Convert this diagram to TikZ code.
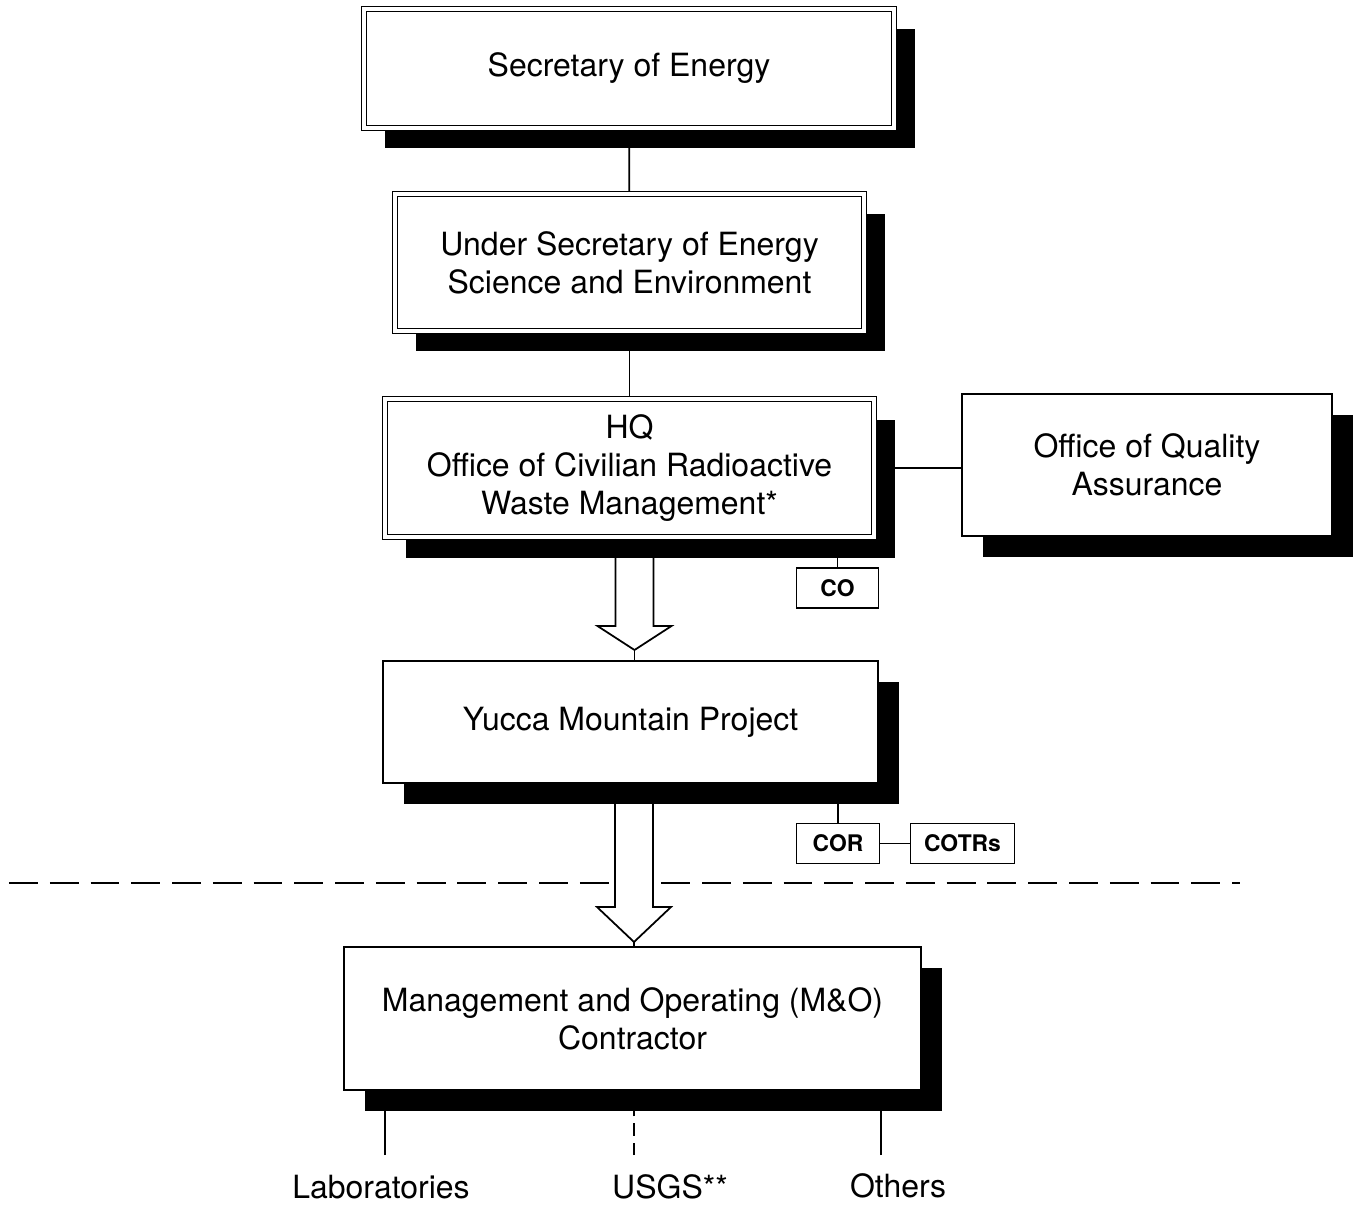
\documentclass[tikz,border=0pt]{standalone}
\usepackage{fontspec}
\setmainfont{TeX Gyre Heros}
\usetikzlibrary{calc}
\usetikzlibrary{positioning}
\usetikzlibrary{shadows}
\usetikzlibrary{backgrounds}

\begin{document}
\begin{tikzpicture}
    \fontsize{18.2}{21.6}\selectfont

    \tikzstyle{blk} = [rectangle, draw=black, line width=1pt, fill=white, align=center, general shadow={shadow xshift=0.42cm, shadow yshift=-0.41cm, fill=black}]
    \tikzstyle{dblk} = [blk, double, double distance=2pt, line width=0.8pt]
    \tikzstyle{tag} = [rectangle, draw=black, line width=1pt, fill=white, minimum height=0.8cm, font=\fontsize{13}{15}\selectfont\bfseries]
    \tikzstyle{lab} = [rectangle, inner sep=0pt]
    \tikzstyle{line} = [line width=1pt]
    \tikzstyle{sep} = [line width=1.2pt, dash pattern=on 16.4pt off 6.8pt]
    \tikzstyle{barrow} = [line width=1pt, fill=white, line join=miter]

    \useasboundingbox (0,0) rectangle (27.16,-24.14);

    % Boxes %%%%%%%%%%%%%%%%%%%%%%%%%%%%%%%%%%%%%%%%%%%%%%%%%%%%%%%%%%%%%%%%%%%%%%%%%%%%%%%
    \node[dblk, minimum width=10.6cm, minimum height=2.38cm] (sec) at (12.58,-1.37) {Secretary of Energy};
    \node[dblk, minimum width=9.38cm, minimum height=2.74cm] (under) at (12.59,-5.25) {Under Secretary of Energy\\Science and Environment};
    \node[dblk, minimum width=9.78cm, minimum height=2.76cm] (hq) at (12.59,-9.36) {HQ\\Office of Civilian Radioactive\\Waste Management*};
    \node[blk, minimum width=7.4cm, minimum height=2.84cm] (oqa) at (22.94,-9.30) {Office of Quality\\Assurance};
    \node[tag, minimum width=1.64cm] (co) at (16.75,-11.76) {CO};
    \node[blk, minimum width=9.9cm, minimum height=2.44cm] (ymp) at (12.61,-14.44) {Yucca Mountain Project};
    \node[tag, minimum width=1.66cm] (cor) at (16.76,-16.87) {COR};
    \node[tag, minimum width=2.08cm] (cotrs) at (19.25,-16.87) {COTRs};
    \node[blk, minimum width=11.54cm, minimum height=2.86cm] (mo) at (12.65,-20.37) {Management and Operating (M\&O)\\Contractor};

    \node[lab] (labs) at (7.62,-23.74) {Laboratories};
    \node[lab] (usgs) at (13.4,-23.74) {USGS**};
    \node[lab] (others) at (17.96,-23.72) {Others};

    \coordinate (labsEnd) at (7.7,-23.1);
    \coordinate (usgsEnd) at (12.68,-23.1);
    \coordinate (othersEnd) at (17.62,-23.1);
    \coordinate (dashL) at (0.18,-17.66);
    \coordinate (dashR) at (24.8,-17.66);
    \coordinate (aTop) at (12.69,-10.9);
    \coordinate (aTip) at (12.69,-13.0);
    \coordinate (bTop) at (12.68,-15.86);
    \coordinate (bTip) at (12.68,-18.84);

    % Now link the nodes (behind the shadows) %%%%%%%%%%%%%%%%%%%%%%%%%%%%%%%%%%%%%%%%%%%%
    \begin{pgfonlayer}{background}
      \draw [line] (sec) -- (under);
      \draw [line] (under) -- (hq);
      \draw [line] (hq) -- (hq -| oqa.west);
      \draw [line] (co.north) -- (co.north |- hq.south);
      \draw [line] (cor.north) -- (cor.north |- ymp.south);
      \draw [line] (cor) -- (cotrs);

      \draw [sep] (dashL) -- (dashR);

      \draw [barrow] ($(aTop)+(-0.38,0)$) -- ($(aTip)+(-0.38,0.48)$) -- ($(aTip)+(-0.74,0.48)$) -- (aTip)
                     -- ($(aTip)+(0.74,0.48)$) -- ($(aTip)+(0.38,0.48)$) -- ($(aTop)+(0.38,0)$);
      \draw [line] (aTip) -- (aTip |- ymp.north);
      \draw [barrow] ($(bTop)+(-0.38,0)$) -- ($(bTip)+(-0.38,0.7)$) -- ($(bTip)+(-0.74,0.7)$) -- (bTip)
                     -- ($(bTip)+(0.74,0.7)$) -- ($(bTip)+(0.38,0.7)$) -- ($(bTop)+(0.38,0)$);
      \draw [line] (bTip) -- (bTip |- mo.north);

      \draw [line] (labsEnd) -- (labsEnd |- mo.south);
      \draw [line, dash pattern=on 7pt off 4pt] (usgsEnd) -- (usgsEnd |- mo.south);
      \draw [line] (othersEnd) -- (othersEnd |- mo.south);
    \end{pgfonlayer}

\end{tikzpicture}
\end{document}
